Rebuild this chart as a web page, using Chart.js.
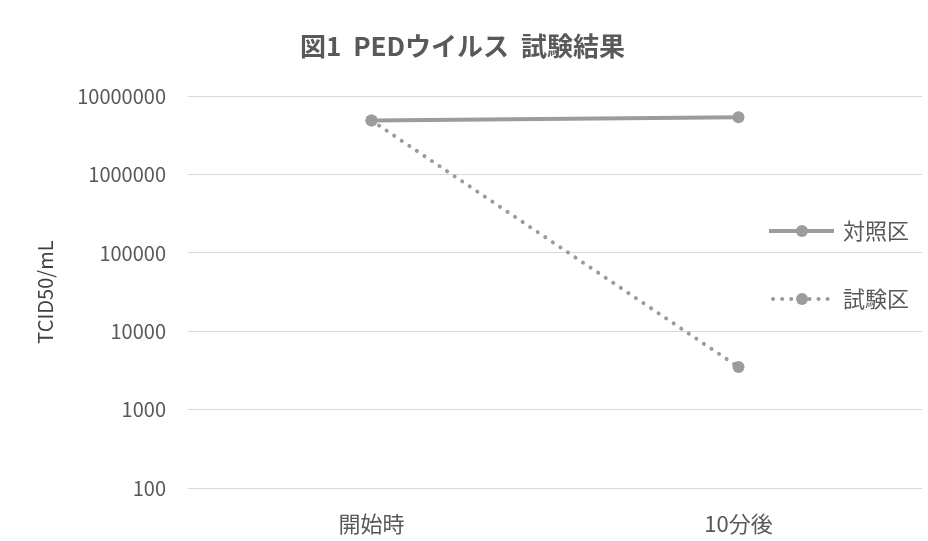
<!DOCTYPE html>
<html>
<head>
<meta charset="utf-8">
<script src="https://cdn.jsdelivr.net/npm/chart.js@4.4.1/dist/chart.umd.min.js"></script>
<style>
  html, body { margin: 0; padding: 0; background: #fff; }
  #wrap { width: 928px; height: 541px; position: relative; }
</style>
</head>
<body>
<div id="wrap"><canvas id="chart" width="928" height="541"></canvas></div>
<script>
const categories = ['開始時', '10分後'];
const controlValues = [4900000, 5400000];
const testValues = [4900000, 3500];
const yTicks = [100, 1000, 10000, 100000, 1000000, 10000000];
const seriesNames = ['対照区', '試験区'];

const FONT = "'Noto Sans CJK JP', sans-serif";
const TEXT = '#595959';
const LINE = '#9c9c9c';

// legend drawn manually, it overlaps the plot on the right like the original
const sideLegend = {
  id: 'sideLegend',
  afterDatasetsDraw(chart) {
    const c = chart.ctx;
    const rows = [
      { name: seriesNames[0], y: 231, dash: [] },
      { name: seriesNames[1], y: 299, dash: [0.1, 9] }
    ];
    rows.forEach(r => {
      c.save();
      c.strokeStyle = LINE;
      c.lineWidth = 4;
      c.lineCap = r.dash.length ? 'round' : 'butt';
      c.setLineDash(r.dash);
      c.beginPath();
      c.moveTo(r.dash.length ? 773 : 769, r.y);
      c.lineTo(834, r.y);
      c.stroke();
      c.setLineDash([]);
      c.fillStyle = LINE;
      c.beginPath();
      c.arc(802, r.y, 6, 0, Math.PI * 2);
      c.fill();
      c.fillStyle = TEXT;
      c.font = '22px ' + FONT;
      c.textBaseline = 'middle';
      c.fillText(r.name, 843, r.y);
      c.restore();
    });
  }
};

new Chart(document.getElementById('chart'), {
  type: 'line',
  data: {
    labels: categories,
    datasets: [{
      label: seriesNames[0],
      data: controlValues,
      borderColor: LINE,
      backgroundColor: LINE,
      borderWidth: 4,
      pointRadius: 6,
      pointBorderWidth: 0,
      tension: 0
    }, {
      label: seriesNames[1],
      data: testValues,
      borderColor: LINE,
      backgroundColor: LINE,
      borderWidth: 4,
      borderDash: [0.1, 9],
      borderCapStyle: 'round',
      pointRadius: 6,
      pointBorderWidth: 0,
      tension: 0
    }]
  },
  options: {
    responsive: false,
    animation: false,
    layout: { padding: { top: 0, right: 3, bottom: 0, left: 0 } },
    plugins: {
      legend: { display: false },
      tooltip: { enabled: false },
      title: {
        display: true,
        text: '図1  PEDウイルス  試験結果',
        color: TEXT,
        font: { family: FONT, size: 26, weight: 'bold' },
        padding: { top: 31, bottom: 34 }
      }
    },
    scales: {
      x: {
        offset: true,
        grid: { display: false },
        border: { display: false },
        afterFit: scale => { scale.height = 53; },
        ticks: { color: TEXT, font: { family: FONT, size: 22 }, padding: 14 }
      },
      y: {
        type: 'logarithmic',
        min: 100,
        max: 10000000,
        afterBuildTicks: scale => { scale.ticks = yTicks.map(v => ({ value: v })); },
        afterFit: scale => { scale.width = 188; },
        grid: { color: '#d9d9d9', lineWidth: 1, drawTicks: false },
        border: { display: false },
        ticks: {
          color: TEXT,
          font: { family: FONT, size: 20 },
          padding: 22,
          callback: v => String(v)
        },
        title: {
          display: true,
          text: 'TCID50/mL',
          color: '#404040',
          font: { family: FONT, size: 20 },
          padding: { top: 33, bottom: 0 }
        }
      }
    }
  },
  plugins: [sideLegend]
});
</script>
</body>
</html>
